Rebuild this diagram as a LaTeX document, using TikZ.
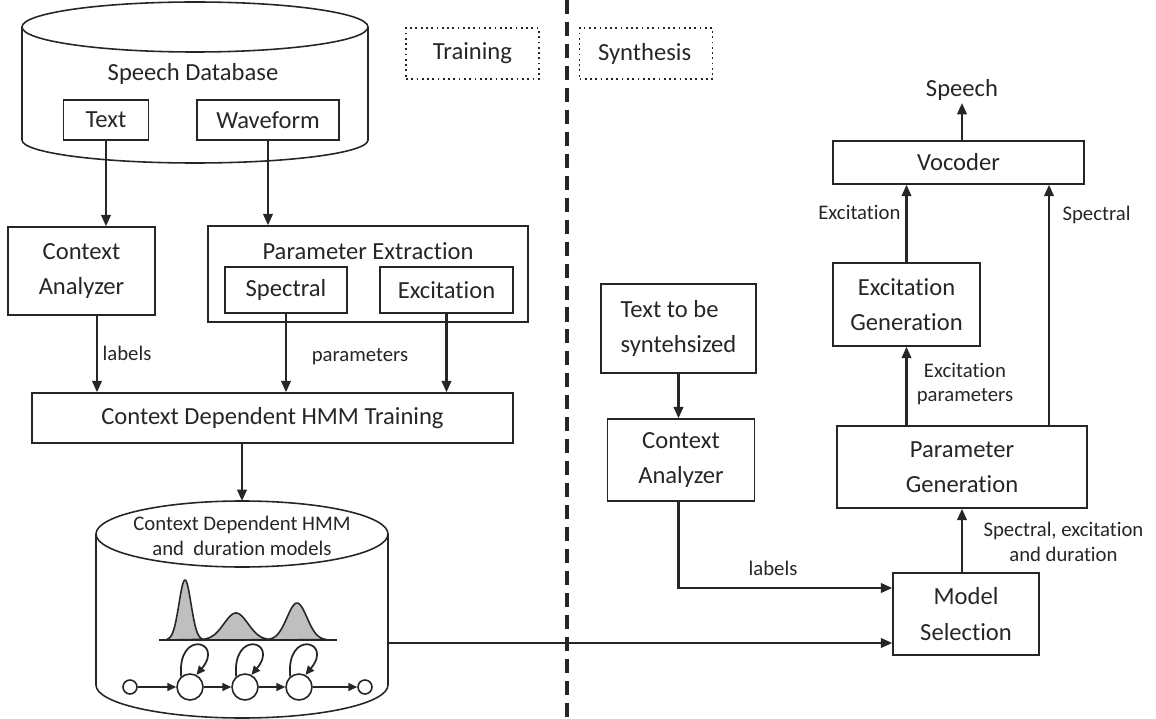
\documentclass[tikz,border=0pt]{standalone}
\usepackage{fontspec}
\setmainfont{Carlito}[Ligatures = NoCommon]
\usetikzlibrary{
    arrows.meta, % Filled triangle arrow heads.
}

\definecolor{ink}{HTML}{262626}
\definecolor{bump}{HTML}{BFBFBF}
\newcommand{\bigtext}{\fontsize{14}{20}\selectfont}
\newcommand{\smalltext}{\fontsize{11.8}{14}\selectfont}

\begin{document}
\begin{tikzpicture}[%
        x = 0.02cm, y = 0.02cm,
        line width = 0.9pt,
        color = ink,
        >= {Triangle[length = 6.5pt, width = 5.5pt]},
        box/.style = {draw, align = center, font = \bigtext, inner sep = 0pt},
        note/.style = {align = center, font = \smalltext, inner sep = 1pt},
        tagbox/.style = {draw, dotted, line width = 1pt, font = \bigtext,
            inner sep = 0pt, minimum width = 2.66cm, minimum height = 1.02cm},
        flow/.style = {->, line width = 1.2pt},
        hop/.style = {-{Triangle[length = 5pt, width = 4.5pt]}, line width = 1pt},
        state/.style = {draw, circle, fill = white, inner sep = 0pt, minimum size = 0.52cm},
        endstate/.style = {draw, circle, fill = white, inner sep = 0pt, minimum size = 0.28cm}
    ]
        \useasboundingbox (0, 0) rectangle (1156, -719);

        % Speech database cylinder.
        \draw (22, -27) -- (22, -140)
            arc[start angle = 180, end angle = 360, x radius = 173, y radius = 23]
            -- (368, -27);
        \draw (195, -27) ellipse[x radius = 173, y radius = 25];
        \node (dbname) at (193, -74) [font = \bigtext] {Speech Database};
        \node[box, minimum width = 1.7cm, minimum height = 0.8cm] (txt) at (106, -120) {Text};
        \node[box, minimum width = 2.84cm, minimum height = 0.8cm] (wave) at (268, -120) {Waveform};

        % Training side boxes.
        \node[box, minimum width = 2.94cm, minimum height = 1.76cm] (ctxL) at (81.5, -271) {Context\\Analyzer};
        \node[box, minimum width = 6.4cm, minimum height = 1.92cm] (parext) at (368, -274) {};
        \node (partitle) at (368, -251) [font = \bigtext] {Parameter Extraction};
        \node[box, minimum width = 2.44cm, minimum height = 0.92cm] (spec) at (286, -290) {Spectral};
        \node[box, minimum width = 2.66cm, minimum height = 0.92cm] (exc) at (446.5, -290) {Excitation};
        \node[box, minimum width = 9.62cm, minimum height = 1.0cm] (train) at (272.5, -418)
            {Context Dependent HMM Training};

        % Coordinates where the arrows leave or land.
        \coordinate (lblx) at (97, -315);
        \coordinate (hmmtop) at (242, -501);
        \coordinate (hmmout) at (388, -643);
        \coordinate (specx) at (1049, 0);

        % Arrows of the training side.
        \draw[flow] (txt.south) -- (txt.south |- ctxL.north);
        \draw[flow] (wave.south) -- (wave.south |- parext.north);
        \draw[flow] (lblx) -- (lblx |- train.north);
        \draw[flow] (spec.south) -- (spec.south |- train.north);
        \draw[flow] (exc.south) -- (exc.south |- train.north);
        \draw[flow] (hmmtop |- train.south) -- (hmmtop);
        \node[note] (lblA) at (127, -353) {labels};
        \node[note] (parlbl) at (360, -357) {parameters};

        % Model database cylinder.
        \draw (96, -534) -- (96, -685)
            arc[start angle = 180, end angle = 360, x radius = 146, y radius = 33]
            -- (388, -534);
        \draw (242, -534) ellipse[x radius = 146, y radius = 33];
        \node[note] (hmmname) at (242, -536) {Context Dependent HMM\\and~ duration models};

        % Output densities.
        \filldraw[fill = bump] (167, -640) -- plot[domain = 167:203, samples = 50, smooth]
            (\x, {-640 + 60*exp(-((\x-185)^2)/72)}) -- cycle;
        \filldraw[fill = bump] (200, -640) -- plot[domain = 200:272, samples = 60, smooth]
            (\x, {-640 + 27*exp(-((\x-236)^2)/288)}) -- cycle;
        \filldraw[fill = bump] (267, -640) -- plot[domain = 267:327, samples = 60, smooth]
            (\x, {-640 + 37*exp(-((\x-297)^2)/200)}) -- cycle;
        \draw (159, -640) -- (337, -640);

        % HMM states.
        \node[endstate] (q0) at (130, -687) {};
        \node[state] (q1) at (190, -687) {};
        \node[state] (q2) at (245, -687) {};
        \node[state] (q3) at (299, -687) {};
        \node[endstate] (q4) at (365, -687) {};
        \foreach \a/\b in {q0/q1, q1/q2, q2/q3, q3/q4}
            \draw[hop] (\a) -- (\b);
        \foreach \q in {q1, q2, q3}
            \draw[hop] (\q.130) .. controls +(95:48) and +(50:44) .. (\q.62);

        % Divider and the two tags.
        \draw[line width = 1.8pt, dash pattern = on 8pt off 4.5pt] (567, 0) -- (567, -719);
        \node[tagbox] (trtag) at (472.5, -53.5) {Training};
        \node[tagbox, inner xsep = 0.36cm, text width = 1.92cm, align = left] (syntag)
            at (646, -53.5) {Synthesis};

        % Synthesis side boxes.
        \node (speech) at (962, -90) [font = \bigtext, inner sep = 1pt] {Speech};
        \node[box, minimum width = 5.02cm, minimum height = 0.86cm] (vocoder) at (958.5, -162.5) {Vocoder};
        \node[box, minimum width = 2.94cm, minimum height = 1.66cm] (excgen) at (906.5, -304.5) {Excitation\\Generation};
        \node[box, minimum width = 5.0cm, minimum height = 1.64cm] (pargen) at (962, -467) {Parameter\\Generation};
        \node[box, minimum width = 2.92cm, minimum height = 1.64cm] (modsel) at (966, -614) {Model\\Selection};
        \node[box, align = left, minimum width = 3.1cm, minimum height = 1.78cm] (txtsyn) at (678.5, -328.5)
            {Text to be\\syntehsized};
        \node[box, minimum width = 2.94cm, minimum height = 1.64cm] (ctxR) at (681, -460) {Context\\Analyzer};

        % Arrows of the synthesis side.
        \draw[flow] (txtsyn.south) -- (txtsyn.south |- ctxR.north);
        \draw[flow] (txtsyn.south |- ctxR.south) |- (modsel.west |- 0,-588);
        \draw[flow] (hmmout) -- (modsel.west |- hmmout);
        \draw[flow] (modsel.north -| pargen.south) -- (pargen.south);
        \draw[flow] (pargen.north -| excgen.south) -- (excgen.south);
        \draw[flow] (pargen.north -| specx) -- (vocoder.south -| specx);
        \draw[flow] (excgen.north) -- (excgen.north |- vocoder.south);
        \draw[flow] (vocoder.north -| speech.south) -- (speech.south);

        % Arrow labels.
        \node[note] (lblB) at (773, -568) {labels};
        \node[note, anchor = west] (mixlbl) at (981, -542) {Spectral, excitation\\and duration};
        \node[note] (exclbl) at (965, -384) {Excitation\\parameters};
        \node[note, anchor = east] (excin) at (903, -212) {Excitation};
        \node[note, anchor = west] (specin) at (1060, -215) {Spectral};
    \end{tikzpicture}
\end{document}
